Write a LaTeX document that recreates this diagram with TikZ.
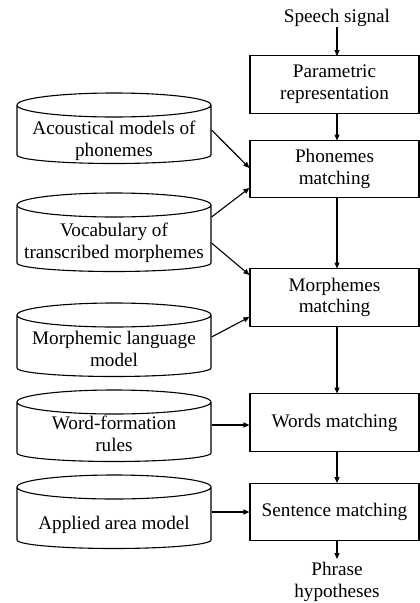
\documentclass[tikz,border=0pt]{standalone}
\usepackage{fontspec}
\setmainfont{Liberation Serif}
\usetikzlibrary{arrows.meta,calc}
\begin{document}
\begin{tikzpicture}[x=1pt,y=-1pt,line width=1.1pt,
  txt/.style={font=\fontsize{19.2}{21.8}\selectfont,align=center,inner sep=0pt},
  box/.style={draw,txt,minimum width=169pt,minimum height=57.5pt},
  arr/.style={-{Triangle[length=6pt,width=5pt]}},
  dbarea/.style={txt,minimum width=194pt,minimum height=60pt}]
\useasboundingbox (0,0) rectangle (420,603);
% cylinder: #1 name, #2 top center y, #3 side end y, #4 text y, #5 text
\newcommand{\mycyl}[5]{%
  \draw (17,#2) arc[start angle=180,end angle=-180,x radius=97,y radius=12]
        (17,#2) -- (17,#3) arc[start angle=180,end angle=0,x radius=97,y radius=8.5] -- (211,#2);
  \node[dbarea] (#1) at (114,#4) {#5};}
\mycyl{acm}{105}{155}{141}{Acoustical models of\\phonemes}
\mycyl{voc}{205}{263}{242.5}{Vocabulary of\\transcribed morphemes}
\mycyl{mlm}{315}{368}{349}{Morphemic language\\model}
\mycyl{wfr}{402}{453}{434}{Word-formation\\rules}
\mycyl{aam}{487}{540}{525}{Applied area model}

\node[txt] (sig) at (337,18) {Speech signal};
\node[box] (par) at (334.5,84.5) {Parametric\\representation};
\node[box] (pho) at (334.5,169) {Phonemes\\matching};
\node[box] (mor) at (334.5,297.5) {Morphemes\\matching};
\node[box] (wor) at (334.5,422.5) {Words matching};
\node[box] (sen) at (334.5,512) {Sentence matching};
\node[txt] (phr) at (337,582) {Phrase\\hypotheses};

\draw[arr] (sig.south -| 337,0) -- (337,56);
\draw[arr] (337,113) -- (337,140.5);
\draw[arr] (337,197.5) -- (337,268.5);
\draw[arr] (337,326.5) -- (337,393.5);
\draw[arr] (337,451.5) -- (337,483);
\draw[arr] (337,541) -- (337,559);

\draw[arr] (acm.east |- 0,130) -- (pho.west |- 0,168);
\draw[arr] (voc.east |- 0,217) -- (pho.west |- 0,188);
\draw[arr] (voc.east |- 0,243) -- (mor.west |- 0,275);
\draw[arr] (mlm.east |- 0,337) -- (mor.west |- 0,317);
\draw[arr] (wfr.east |- 0,425) -- (wor.west |- 0,425);
\draw[arr] (aam.east |- 0,512) -- (sen.west |- 0,512);
\end{tikzpicture}
\end{document}
